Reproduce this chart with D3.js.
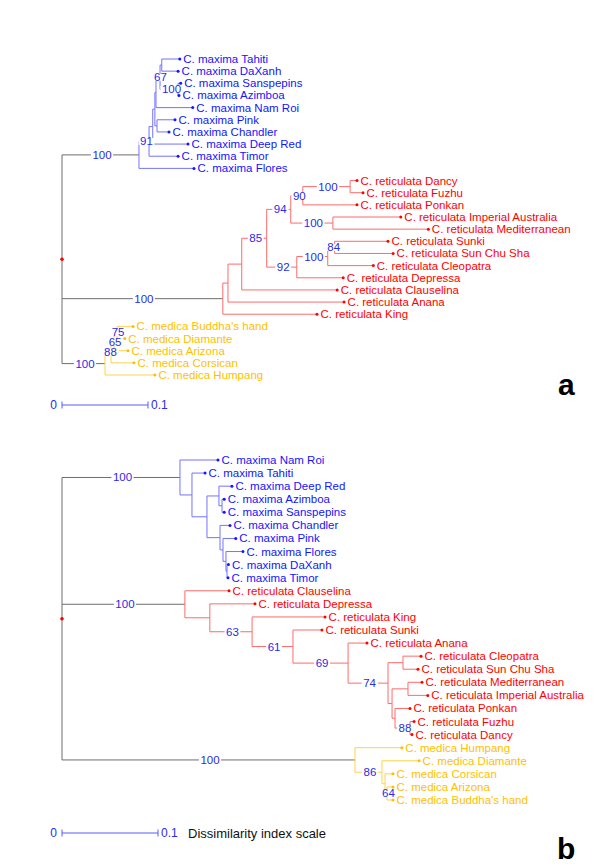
<!DOCTYPE html>
<html>
<head>
<meta charset="utf-8">
<script src="https://cdn.jsdelivr.net/npm/d3@7"></script>
<style>
  html, body { margin: 0; padding: 0; background: #fff; }
  svg { display: block; }
  text { font-family: "Liberation Sans", Arial, sans-serif; }
</style>
</head>
<body>
<svg id="chart" width="600" height="867"></svg>
<script>
// ---------------- DATA ----------------
// Tree a: internal nodes [id, parent, distance from root, bootstrap]
const nodesA = [
  ["a_root", null, 0, null],
  ["a_max", "a_root", 0.0895, 100],
  ["a_91", "a_max", 0.1012, 91],
  ["a_y", "a_91", 0.1055, null],
  ["a_z", "a_y", 0.108, null],
  ["a_w", "a_z", 0.1093, null],
  ["a_pc", "a_z", 0.1105, null],
  ["a_67", "a_w", 0.114, 67],
  ["a_td", "a_67", 0.116, null],
  ["a_sa", "a_67", 0.1349, 100],
  ["a_r", "a_root", 0.187, 100],
  ["a_r2", "a_r", 0.193, null],
  ["a_r3", "a_r2", 0.209, null],
  ["a_85", "a_r3", 0.238, 85],
  ["a_94", "a_85", 0.266, 94],
  ["a_90", "a_94", 0.280, 90],
  ["a_df", "a_90", 0.335, 100],
  ["a_im", "a_94", 0.315, 100],
  ["a_92", "a_85", 0.273, 92],
  ["a_ssc", "a_92", 0.309, 100],
  ["a_84", "a_ssc", 0.317, 84],
  ["a_c", "a_root", 0.050, 100],
  ["a_88", "a_c", 0.057, 88],
  ["a_65", "a_88", 0.0605, 65],
  ["a_75", "a_65", 0.064, 75]
];
// Tree a: tips in display order [label, parent, distance from root]
const tipsA = [
  ["C. maxima Tahiti", "a_td", 0.137],
  ["C. maxima DaXanh", "a_td", 0.135],
  ["C. maxima Sanspepins", "a_sa", 0.138],
  ["C. maxima Azimboa", "a_sa", 0.136],
  ["C. maxima Nam Roi", "a_w", 0.152],
  ["C. maxima Pink", "a_pc", 0.1314],
  ["C. maxima Chandler", "a_pc", 0.1244],
  ["C. maxima Deep Red", "a_y", 0.1465],
  ["C. maxima Timor", "a_91", 0.135],
  ["C. maxima Flores", "a_max", 0.1535],
  ["C. reticulata Dancy", "a_df", 0.343],
  ["C. reticulata Fuzhu", "a_df", 0.350],
  ["C. reticulata Ponkan", "a_90", 0.343],
  ["C. reticulata Imperial Australia", "a_im", 0.394],
  ["C. reticulata Mediterranean", "a_im", 0.426],
  ["C. reticulata Sunki", "a_84", 0.379],
  ["C. reticulata Sun Chu Sha", "a_84", 0.385],
  ["C. reticulata Cleopatra", "a_ssc", 0.362],
  ["C. reticulata Depressa", "a_92", 0.327],
  ["C. reticulata Clauselina", "a_r3", 0.320],
  ["C. reticulata Anana", "a_r2", 0.328],
  ["C. reticulata King", "a_r", 0.2965],
  ["C. medica Buddha's hand", "a_75", 0.0826],
  ["C. medica Diamante", "a_75", 0.073],
  ["C. medica Arizona", "a_65", 0.0767],
  ["C. medica Corsican", "a_88", 0.0837],
  ["C. medica Humpang", "a_c", 0.108]
];

// Tree b: internal nodes
const nodesB = [
  ["b_root", null, 0, null],
  ["b_max", "b_root", 0.1229, 100],
  ["b_n1", "b_max", 0.1354, null],
  ["b_n2", "b_n1", 0.151, null],
  ["b_n3", "b_n2", 0.1635, null],
  ["b_as", "b_n3", 0.1667, null],
  ["b_n4", "b_n2", 0.1646, null],
  ["b_n5", "b_n4", 0.1677, null],
  ["b_n6", "b_n5", 0.1708, null],
  ["b_dt", "b_n6", 0.1719, null],
  ["b_r", "b_root", 0.128, 100],
  ["b_r2", "b_r", 0.154, null],
  ["b_63", "b_r2", 0.198, 63],
  ["b_61", "b_63", 0.2406, 61],
  ["b_69", "b_61", 0.298, 69],
  ["b_74", "b_69", 0.3396, 74],
  ["b_cs", "b_74", 0.3552, null],
  ["b_p", "b_74", 0.3438, null],
  ["b_mi", "b_p", 0.3604, null],
  ["b_p2", "b_p", 0.3469, null],
  ["b_fd", "b_p2", 0.3625, 88],
  ["b_c", "b_root", 0.3052, 100],
  ["b_86", "b_c", 0.3333, 86],
  ["b_n", "b_86", 0.3365, null],
  ["b_64", "b_n", 0.3385, 64]
];
// Tree b: tips
const tipsB = [
  ["C. maxima Nam Roi", "b_max", 0.1625],
  ["C. maxima Tahiti", "b_n1", 0.149],
  ["C. maxima Deep Red", "b_n3", 0.177],
  ["C. maxima Azimboa", "b_as", 0.169],
  ["C. maxima Sanspepins", "b_as", 0.169],
  ["C. maxima Chandler", "b_n4", 0.175],
  ["C. maxima Pink", "b_n5", 0.181],
  ["C. maxima Flores", "b_n6", 0.1885],
  ["C. maxima DaXanh", "b_dt", 0.1734],
  ["C. maxima Timor", "b_dt", 0.1729],
  ["C. reticulata Clauselina", "b_r", 0.174],
  ["C. reticulata Depressa", "b_r2", 0.201],
  ["C. reticulata King", "b_63", 0.274],
  ["C. reticulata Sunki", "b_61", 0.2708],
  ["C. reticulata Anana", "b_69", 0.3177],
  ["C. reticulata Cleopatra", "b_cs", 0.374],
  ["C. reticulata Sun Chu Sha", "b_cs", 0.3708],
  ["C. reticulata Mediterranean", "b_mi", 0.375],
  ["C. reticulata Imperial Australia", "b_mi", 0.381],
  ["C. reticulata Ponkan", "b_p2", 0.3625],
  ["C. reticulata Fuzhu", "b_fd", 0.3667],
  ["C. reticulata Dancy", "b_fd", 0.3646],
  ["C. medica Humpang", "b_c", 0.354],
  ["C. medica Diamante", "b_86", 0.372],
  ["C. medica Corsican", "b_n", 0.3448],
  ["C. medica Arizona", "b_64", 0.3448],
  ["C. medica Buddha's hand", "b_64", 0.3448]
];

const scaleBarTicks = ["0", "0.1"];
const scaleBarValues = [0, 0.1];
const scaleCaption = "Dissimilarity index scale";
const panelLabels = ["a", "b"];

// ---------------- STYLE / LAYOUT ----------------
const textColor = { maxima: "#1414ff", reticulata: "#ff0000", medica: "#ffbf00" };
const lineColor = { maxima: "#7373ff", reticulata: "#ff6b6b", medica: "#ffd34d" };
const greyLine = "#6e6e6e";
const supportColor = "#2a2ae8";
const FONT = 11.5;

const layoutA = { x0: 62, unitPx: 86, yTop: 59, yBot: 375, barY: 405, label: [558, 395], caption: false };
const layoutB = { x0: 62, unitPx: 96, yTop: 460, yBot: 800, barY: 833, label: [557, 859], caption: true };

const svg = d3.select("#chart");

function drawTree(nodes, tips, L, panel) {
  const g = svg.append("g");
  const x = d3.scaleLinear().domain([0, 0.1]).range([L.x0, L.x0 + L.unitPx]);
  const y = d3.scalePoint().domain(tips.map(t => t[0])).range([L.yTop, L.yBot]);

  const map = new Map();
  nodes.forEach(([id, parent, dist, sup]) => map.set(id, { id, parent, dist, sup, children: [], tip: false }));
  tips.forEach(([name, parent, dist]) => map.set(name, {
    id: name, parent, dist, children: [], tip: true, y: y(name), species: name.split(" ")[1]
  }));
  let root = null;
  map.forEach(n => { if (n.parent) map.get(n.parent).children.push(n); else root = n; });

  (function post(n) {
    if (n.tip) return;
    n.children.forEach(post);
    const ys = n.children.map(c => c.y);
    n.y0 = d3.min(ys); n.y1 = d3.max(ys);
    n.y = (n.y0 + n.y1) / 2;
    const sp = new Set(n.children.map(c => c.species));
    n.species = sp.size === 1 ? [...sp][0] : null;
  })(root);

  const all = [...map.values()];
  const colorOf = n => (n && n.species && n !== root) ? lineColor[n.species] : greyLine;

  // horizontal branches
  g.append("g").selectAll("line").data(all.filter(n => n.parent)).join("line")
    .attr("x1", n => x(map.get(n.parent).dist)).attr("x2", n => x(n.dist))
    .attr("y1", n => n.y).attr("y2", n => n.y)
    .attr("stroke", n => colorOf(map.get(n.parent))).attr("stroke-width", 1);
  // vertical connectors
  g.append("g").selectAll("line").data(all.filter(n => !n.tip)).join("line")
    .attr("x1", n => x(n.dist)).attr("x2", n => x(n.dist))
    .attr("y1", n => n.y0).attr("y2", n => n.y1)
    .attr("stroke", n => colorOf(n)).attr("stroke-width", 1);

  // root marker
  g.append("circle").attr("cx", x(root.dist)).attr("cy", root.y).attr("r", 1.8).attr("fill", "#ff0000");

  // bootstrap labels
  const sg = g.append("g");
  all.filter(n => !n.tip && n.sup != null).forEach(n => {
    const px = x(map.get(n.parent).dist), nx = x(n.dist);
    const cx = (px + nx) / 2 + (nx - px < 20 ? 2.5 : 1.5);
    const t = sg.append("text").attr("x", cx).attr("y", n.y)
      .attr("text-anchor", "middle").attr("dominant-baseline", "central")
      .attr("font-size", FONT).attr("fill", supportColor).text(n.sup);
    const bb = t.node().getBBox();
    sg.insert("rect", () => t.node())
      .attr("x", bb.x - 1.5).attr("y", n.y - 3.5).attr("width", bb.width + 3).attr("height", 7)
      .attr("fill", "#fff");
  });

  // tips
  const tg = g.append("g").selectAll("g").data(all.filter(n => n.tip)).join("g");
  tg.append("circle").attr("cx", n => x(n.dist)).attr("cy", n => n.y).attr("r", 1.5)
    .attr("fill", n => textColor[n.species]);
  tg.append("text").attr("x", n => x(n.dist) + 3.5).attr("y", n => n.y)
    .attr("dominant-baseline", "central").attr("font-size", FONT)
    .attr("fill", n => textColor[n.species]).text(n => n.id);

  // scale bar
  const bar = g.append("g");
  const bx0 = x(scaleBarValues[0]), bx1 = x(scaleBarValues[1]);
  bar.append("line").attr("x1", bx0).attr("x2", bx1).attr("y1", L.barY).attr("y2", L.barY)
    .attr("stroke", "#5b5bff");
  scaleBarValues.forEach(v => bar.append("line").attr("x1", x(v)).attr("x2", x(v))
    .attr("y1", L.barY - 3.5).attr("y2", L.barY + 3.5).attr("stroke", "#5b5bff"));
  bar.append("text").attr("x", bx0 - 5).attr("y", L.barY).attr("text-anchor", "end")
    .attr("dominant-baseline", "central").attr("font-size", 12).attr("fill", supportColor)
    .text(scaleBarTicks[0]);
  bar.append("text").attr("x", bx1 + 3).attr("y", L.barY)
    .attr("dominant-baseline", "central").attr("font-size", 12).attr("fill", supportColor)
    .text(scaleBarTicks[1]);
  if (L.caption) {
    bar.append("text").attr("x", 188).attr("y", L.barY)
      .attr("dominant-baseline", "central").attr("font-size", 13).attr("fill", "#111")
      .text(scaleCaption);
  }

  // panel label
  g.append("text").attr("x", L.label[0]).attr("y", L.label[1])
    .attr("font-size", 30).attr("font-weight", "bold").attr("fill", "#000").text(panel);
}

drawTree(nodesA, tipsA, layoutA, panelLabels[0]);
drawTree(nodesB, tipsB, layoutB, panelLabels[1]);
</script>
</body>
</html>
